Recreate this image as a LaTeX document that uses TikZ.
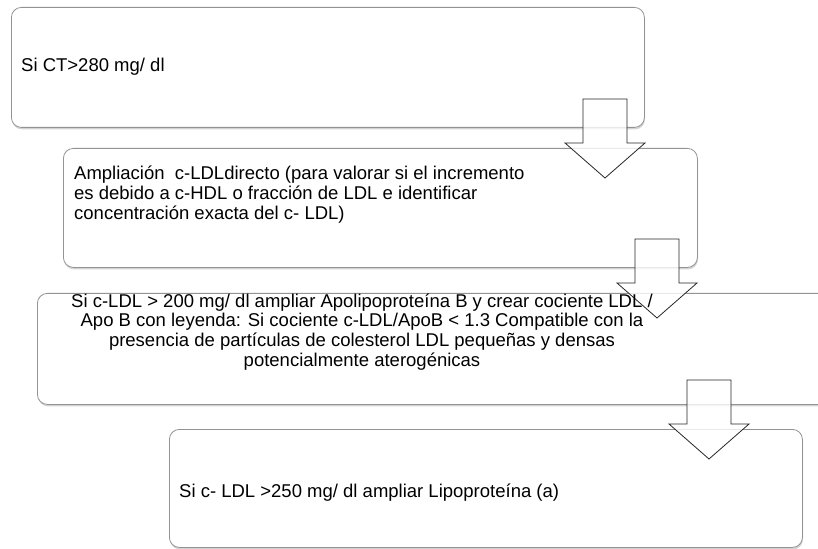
\documentclass[tikz,border=0pt]{standalone}
\usepackage{fontspec}
\setmainfont{Liberation Sans}
\usetikzlibrary{shadows}

\tikzset{
  box/.style={draw=gray!85, line width=0.8bp, fill=white, rounded corners=10bp,
    anchor=north west, inner sep=0pt,
    drop shadow={shadow xshift=0.6bp, shadow yshift=-2bp, opacity=0.35}},
  txt/.style={inner sep=0pt, font=\fontsize{18.5bp}{20bp}\selectfont},
  blockarrow/.style={draw=black!85, line width=0.8bp, fill=white, fill opacity=0.8,
    line join=miter},
}

\begin{document}
\begin{tikzpicture}[x=1bp, y=-1bp]
  \useasboundingbox (0,0) rectangle (818,549);
  \clip (0,0) rectangle (818,549);
  % boxes, top to bottom (the third one runs off the right edge)
  \node[box, minimum width=633bp, minimum height=120bp] (b1) at (11,7) {};
  \node[box, minimum width=634bp, minimum height=119bp] (b2) at (63,148) {};
  \node[box, minimum width=820bp, minimum height=111bp] (b3) at (37,293) {};
  \node[box, minimum width=633bp, minimum height=118bp] (b4) at (169,429) {};
  % block arrows: centre x / top of the shaft
  \foreach \cx/\ay in {605/99, 657/239, 709/380}
    \draw[blockarrow] (\cx-22,\ay) -- (\cx+22,\ay) -- (\cx+22,\ay+44) -- (\cx+40,\ay+44)
      -- (\cx,\ay+79) -- (\cx-40,\ay+44) -- (\cx-22,\ay+44) -- cycle;
  % texts (base of a multi-line node = its last line)
  \node[txt, anchor=base west] (t1) at (21,72) {Si CT>280 mg/ dl};
  \node[txt, anchor=base west, align=left] (t2) at (74,220)
    {Ampliación\ \ c-LDLdirecto (para valorar si el incremento\\
     es debido a c-HDL o fracción de LDL e identificar\\
     concentración exacta del c- LDL)};
  \node[txt, anchor=base, align=center, font=\fontsize{18.5bp}{19.5bp}\selectfont] (t3) at (362,366)
    {Si c-LDL > 200 mg/ dl ampliar Apolipoproteína B y crear cociente LDL /\\
     Apo B con leyenda: Si cociente c-LDL/ApoB < 1.3 Compatible con la\\
     presencia de partículas de colesterol LDL pequeñas y densas\\
     potencialmente aterogénicas};
  \node[txt, anchor=base west] (t4) at (179,497) {Si c- LDL >250 mg/ dl ampliar Lipoproteína (a)};
\end{tikzpicture}
\end{document}
